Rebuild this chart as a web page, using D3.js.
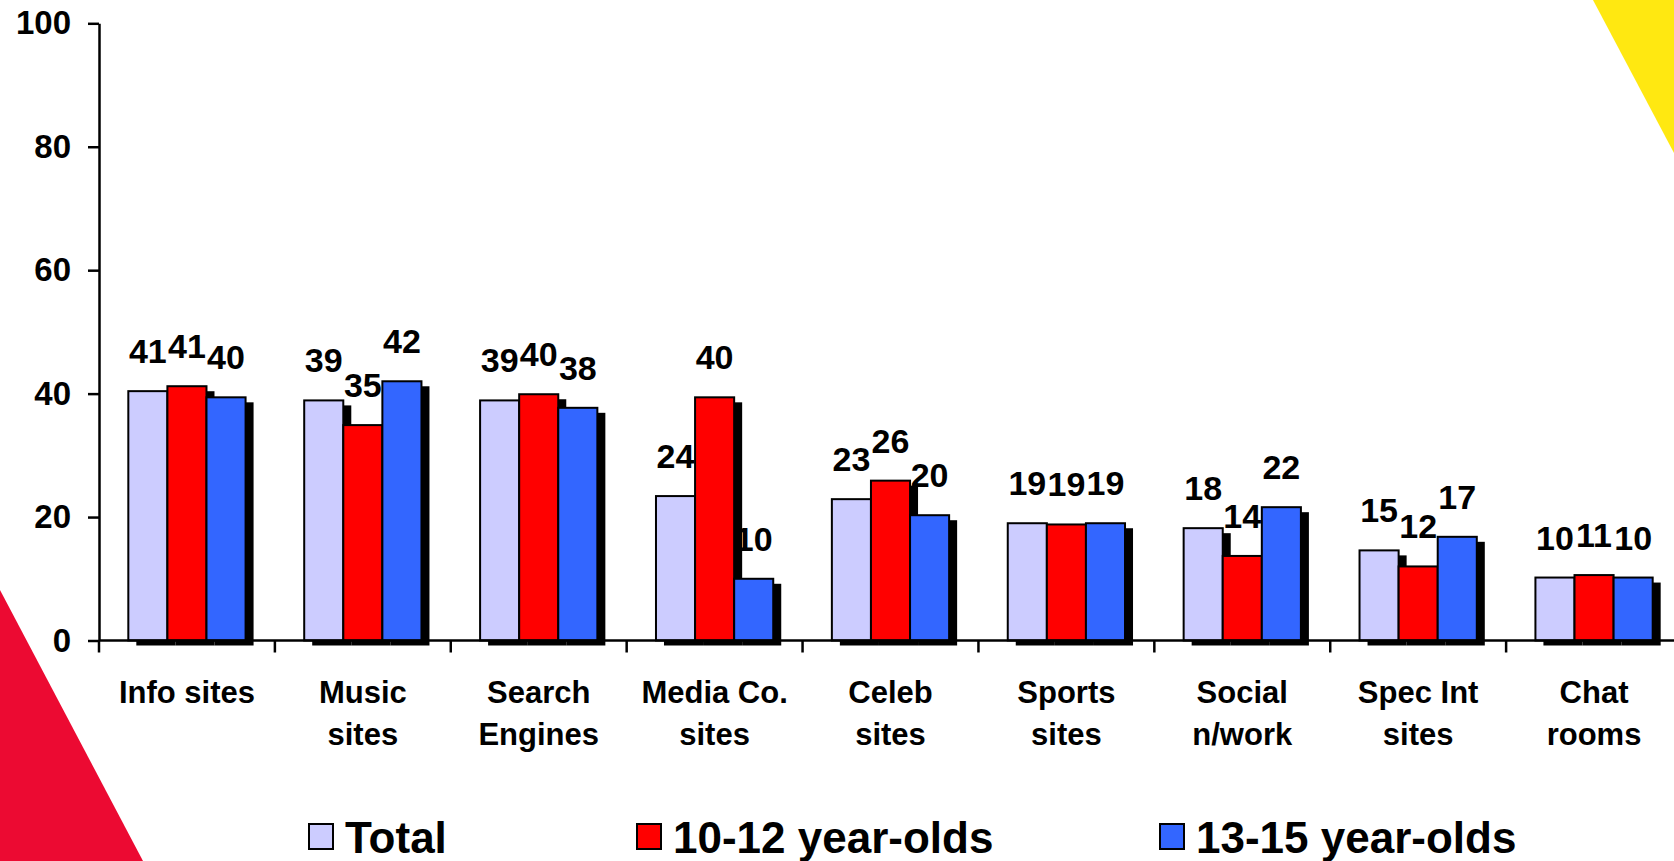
<!DOCTYPE html>
<html>
<head>
<meta charset="utf-8">
<script src="https://cdn.jsdelivr.net/npm/d3@7"></script>
<style>
  body { margin: 0; background: #fff; }
  svg { display: block; font-family: "Liberation Sans", Arial, sans-serif; font-weight: bold; }
</style>
</head>
<body>
<div id="chart"></div>
<script>
/* DATA */
const categories = ["Info sites", "Music sites", "Search Engines", "Media Co. sites", "Celeb sites",
  "Sports sites", "Social n/work", "Spec Int sites", "Chat rooms"];
// how each category label breaks over lines
const categoryLines = [["Info sites"], ["Music", "sites"], ["Search", "Engines"], ["Media Co.", "sites"],
  ["Celeb", "sites"], ["Sports", "sites"], ["Social", "n/work"], ["Spec Int", "sites"], ["Chat", "rooms"]];
const seriesNames = ["Total", "10-12 year-olds", "13-15 year-olds"];
const totalValues = [40.4, 38.9, 38.9, 23.4, 22.9, 19.0, 18.2, 14.6, 10.2];
const youngValues = [41.2, 34.9, 39.9, 39.4, 25.9, 18.8, 13.7, 12.0, 10.6];
const olderValues = [39.4, 42.0, 37.7, 10.0, 20.3, 19.0, 21.6, 16.8, 10.2];
const totalLabels = [41, 39, 39, 24, 23, 19, 18, 15, 10];
const youngLabels = [41, 35, 40, 40, 26, 19, 14, 12, 11];
const olderLabels = [40, 42, 38, 10, 20, 19, 22, 17, 10];
const yTicks = [0, 20, 40, 60, 80, 100];

/* LAYOUT */
const width = 1674, height = 861;
const plot = { left: 99, right: 1682, top: 23.3, bottom: 640.5 };
const colors = ["#CCCCFF", "#FF0000", "#3366FF"];
const shadow = { dx: 8, dy: 5 };

const seriesValues = [totalValues, youngValues, olderValues];
const seriesLabels = [totalLabels, youngLabels, olderLabels];

const rows = [];
categories.forEach((c, i) => {
  seriesNames.forEach((s, j) => {
    rows.push({ cat: c, series: s, idx: j, value: seriesValues[j][i], label: seriesLabels[j][i] });
  });
});

const svg = d3.select("#chart").append("svg")
  .attr("width", width)
  .attr("height", height);

// background corner shapes
svg.append("polygon")
  .attr("points", `1593,0 ${width},0 ${width},153`)
  .attr("fill", "#FFE811");
svg.append("polygon")
  .attr("points", `0,590 143,${height} 0,${height}`)
  .attr("fill", "#EC0A32");

/* SCALES */
const x0 = d3.scaleBand()
  .domain(categories)
  .range([plot.left, plot.right])
  .padding(0);

const x1 = d3.scaleBand()
  .domain(seriesNames)
  .range([0, x0.bandwidth()])
  .paddingInner(0)
  .paddingOuter(0.75);

const yScale = d3.scaleLinear()
  .domain([0, 100])
  .range([plot.bottom, plot.top]);

const color = d3.scaleOrdinal().domain(seriesNames).range(colors);

/* SHADOWS + BARS */
svg.append("g").selectAll("rect")
  .data(rows)
  .join("rect")
  .attr("x", d => x0(d.cat) + x1(d.series) + shadow.dx)
  .attr("y", d => yScale(d.value) + shadow.dy)
  .attr("width", x1.bandwidth())
  .attr("height", d => yScale(0) - yScale(d.value))
  .attr("fill", "#000");

svg.append("g").selectAll("rect")
  .data(rows)
  .join("rect")
  .attr("x", d => x0(d.cat) + x1(d.series))
  .attr("y", d => yScale(d.value))
  .attr("width", x1.bandwidth())
  .attr("height", d => yScale(0) - yScale(d.value))
  .attr("fill", d => color(d.series))
  .attr("stroke", "#000")
  .attr("stroke-width", 2);

/* AXES */
const yAxis = d3.axisLeft(yScale)
  .tickValues(yTicks)
  .tickSize(11)
  .tickSizeOuter(0)
  .tickPadding(17);

const yAxisGroup = svg.append("g")
  .attr("transform", `translate(${plot.left},0)`)
  .call(yAxis);
yAxisGroup.select(".domain").attr("stroke-width", 2.5);
yAxisGroup.selectAll(".tick line").attr("stroke-width", 2.5);
yAxisGroup.selectAll(".tick text")
  .attr("font-size", 33)
  .attr("font-family", "'Liberation Sans', Arial, sans-serif")
  .attr("font-weight", "bold")
  .attr("fill", "#000");

// x axis line with ticks at category boundaries
svg.append("line")
  .attr("x1", plot.left).attr("x2", width)
  .attr("y1", yScale(0)).attr("y2", yScale(0))
  .attr("stroke", "#000").attr("stroke-width", 2.5);

svg.append("g").selectAll("line")
  .data(categories)
  .join("line")
  .attr("x1", d => x0(d)).attr("x2", d => x0(d))
  .attr("y1", yScale(0)).attr("y2", yScale(0) + 12)
  .attr("stroke", "#000").attr("stroke-width", 2.5);

// category labels
const catText = svg.append("g").selectAll("text")
  .data(categories)
  .join("text")
  .attr("text-anchor", "middle")
  .attr("font-size", 31)
  .attr("fill", "#000");

catText.selectAll("tspan")
  .data((d, i) => categoryLines[i].map(t => ({ t, c: d })))
  .join("tspan")
  .attr("x", d => x0(d.c) + x0.bandwidth() / 2)
  .attr("y", (d, k) => 703 + k * 42)
  .text(d => d.t);

/* VALUE LABELS */
svg.append("g").selectAll("text")
  .data(rows)
  .join("text")
  .attr("x", d => x0(d.cat) + x1(d.series) + x1.bandwidth() / 2)
  .attr("y", d => yScale(d.value) - 28)
  .attr("text-anchor", "middle")
  .attr("font-size", 34)
  .attr("fill", "#000")
  .text(d => d.label);

/* LEGEND */
const legendX = [309, 637, 1160];
const legend = svg.append("g").selectAll("g")
  .data(seriesNames)
  .join("g")
  .attr("transform", (d, i) => `translate(${legendX[i]},824)`);

legend.append("rect")
  .attr("width", 24)
  .attr("height", 25)
  .attr("fill", d => color(d))
  .attr("stroke", "#000")
  .attr("stroke-width", 2);

legend.append("text")
  .attr("x", 36)
  .attr("y", 29)
  .attr("font-size", 44)
  .attr("fill", "#000")
  .text(d => d);
</script>
</body>
</html>
